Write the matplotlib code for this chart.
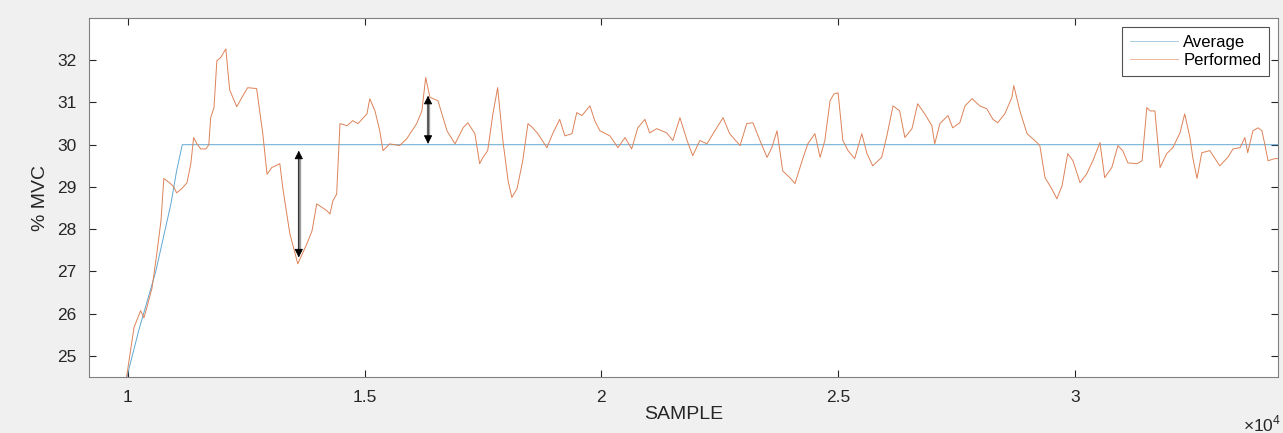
"""MATLAB-style force tracking trace: target average vs performed %MVC."""
import numpy as np
import matplotlib
matplotlib.use('Agg')
import matplotlib.pyplot as plt
from matplotlib.ticker import FuncFormatter

plt.rcParams.update({
    'font.family': ['Liberation Sans', 'DejaVu Sans'],
    'mathtext.fontset': 'custom', 'mathtext.rm': 'Liberation Sans',
    'xtick.direction': 'in', 'ytick.direction': 'in',
})
BG = '#f0f0f0'; INK = '#262626'; SPINE = '#808080'

# ---------- data (samples, %MVC) ----------
avg_x = [9980, 10230, 10590, 10910, 11030, 11150, 34290]
avg_y = [24.5, 25.6, 27.0, 28.6, 29.38, 30.0, 30.0]

perf_x = [9960, 10130, 10270, 10340, 10400, 10510, 10610, 10700, 10760, 10820,
          10910, 10970, 11030, 11140, 11250, 11330, 11390, 11460, 11540, 11650,
          11710, 11750, 11820, 11880, 11960, 12070, 12150, 12300, 12410, 12530,
          12720, 12850, 12940, 13040, 13210, 13270, 13420, 13590, 13780, 13890,
          13990, 14200, 14270, 14330, 14410, 14480, 14630, 14750, 14860, 15050,
          15110, 15220, 15320, 15390, 15530, 15740, 15890, 16100, 16210, 16290,
          16380, 16550, 16740, 16910, 17080, 17180, 17330, 17430, 17500, 17600,
          17710, 17810, 17920, 18030, 18110, 18220, 18340, 18450, 18550, 18660,
          18850, 18980, 19120, 19230, 19380, 19480, 19590, 19760, 19860, 19970,
          20180, 20350, 20500, 20640, 20770, 20920, 21020, 21170, 21380, 21510,
          21660, 21810, 21930, 22080, 22230, 22360, 22570, 22710, 22930, 23070,
          23200, 23350, 23500, 23600, 23710, 23830, 23980, 24090, 24240, 24360,
          24510, 24620, 24720, 24830, 24910, 25000, 25100, 25210, 25350, 25500,
          25610, 25730, 25920, 26030, 26160, 26300, 26410, 26560, 26680, 26830,
          26980, 27040, 27150, 27320, 27420, 27570, 27680, 27830, 27990, 28140,
          28270, 28370, 28520, 28670, 28710, 28840, 28990, 29200, 29260, 29370,
          29510, 29620, 29730, 29850, 29960, 30110, 30250, 30380, 30530, 30630,
          30780, 30910, 31010, 31120, 31310, 31420, 31520, 31590, 31690, 31800,
          31940, 32070, 32220, 32320, 32430, 32490, 32580, 32680, 32850, 33060,
          33230, 33340, 33490, 33590, 33650, 33760, 33870, 33950, 34010, 34080,
          34220, 34310]
perf_y = [24.4, 25.67, 26.07, 25.9, 26.14, 26.6, 27.4, 28.2, 29.2, 29.15,
          29.07, 29.0, 28.86, 28.96, 29.1, 29.55, 30.17, 30.02, 29.9, 29.9,
          30.0, 30.64, 30.88, 31.99, 32.06, 32.27, 31.3, 30.9, 31.12, 31.35,
          31.33, 30.26, 29.3, 29.46, 29.55, 29.0, 27.9, 27.18, 27.65, 27.96,
          28.6, 28.44, 28.36, 28.67, 28.83, 30.5, 30.45, 30.57, 30.5, 30.73,
          31.09, 30.8, 30.33, 29.86, 30.02, 29.98, 30.14, 30.5, 30.8, 31.59,
          31.12, 31.04, 30.33, 30.02, 30.4, 30.52, 30.26, 29.55, 29.7, 29.86,
          30.73, 31.35, 30.1, 29.15, 28.75, 28.96, 29.62, 30.5, 30.4, 30.26,
          29.93, 30.28, 30.6, 30.21, 30.26, 30.76, 30.69, 30.92, 30.57, 30.33,
          30.21, 29.93, 30.17, 29.9, 30.4, 30.6, 30.28, 30.38, 30.28, 30.1,
          30.64, 30.1, 29.74, 30.1, 30.02, 30.26, 30.64, 30.26, 29.98, 30.5,
          30.52, 30.1, 29.7, 29.93, 30.33, 29.38, 29.22, 29.08, 29.62, 30.02,
          30.26, 29.7, 30.1, 31.04, 31.2, 31.23, 30.1, 29.86, 29.67, 30.26,
          29.79, 29.5, 29.7, 30.21, 30.92, 30.8, 30.17, 30.38, 30.97, 30.73,
          30.45, 30.02, 30.5, 30.69, 30.4, 30.52, 30.92, 31.09, 30.92, 30.85,
          30.6, 30.52, 30.73, 31.12, 31.4, 30.8, 30.26, 30.05, 29.98, 29.22,
          28.96, 28.72, 29.03, 29.79, 29.62, 29.1, 29.31, 29.62, 30.05, 29.22,
          29.46, 29.98, 29.86, 29.57, 29.55, 29.62, 30.88, 30.8, 30.8, 29.46,
          29.79, 29.93, 30.28, 30.73, 30.17, 29.7, 29.2, 29.81, 29.86, 29.5,
          29.7, 29.9, 29.93, 30.17, 29.81, 30.33, 30.4, 30.33, 30.02, 29.62,
          29.67, 29.67]

# double-headed deviation markers: (sample, top, bottom)
arrows = [(13610, 29.86, 27.33), (16340, 31.16, 30.02)]

xticks = [10000, 15000, 20000, 25000, 30000]
yticks = [25, 26, 27, 28, 29, 30, 31, 32]

fig = plt.figure(figsize=(12.83, 4.33), dpi=100, facecolor=BG)
ax = fig.add_axes([89/1283, 56/433, 1189/1283, 359/433])
ax.plot(avg_x, avg_y, color='#5fa8d3', lw=0.7, label='Average')
ax.plot(perf_x, perf_y, color='#dd8258', lw=0.7, label='Performed')

for x, top, bot in arrows:
    ax.plot([x, x], [top - 0.12, bot + 0.12], color='0.62', lw=2.4, solid_capstyle='butt')
    ax.annotate('', xy=(x, top), xytext=(x, bot),
                arrowprops=dict(arrowstyle='<|-|>', color='black', lw=0.6,
                                mutation_scale=13, shrinkA=0, shrinkB=0))

ax.set_xlim(9180, 34290); ax.set_ylim(24.5, 33)
ax.set_xticks(xticks); ax.set_yticks(yticks)
ax.xaxis.set_major_formatter(FuncFormatter(lambda v, p: '%g' % (v / 1e4)))
ax.tick_params(top=True, right=True, length=5, width=0.8, color=INK,
               labelsize=12.5, labelcolor=INK, pad=9)
for s in ax.spines.values():
    s.set_color(SPINE); s.set_linewidth(0.8)
ax.set_xlabel('SAMPLE', fontsize=14, color=INK, labelpad=1)
ax.set_ylabel('% MVC', fontsize=14, color=INK, labelpad=6)
fig.text(1262/1283, 1 - 424/433, r'$\times10^{4}$', fontsize=12.5, color=INK,
         ha='center', va='center')

leg = ax.legend(loc='upper right', fontsize=12, frameon=True, fancybox=False,
                edgecolor=INK, handlelength=2.9, borderaxespad=0.55,
                borderpad=0.45, labelspacing=0.2, handletextpad=0.3)
leg.get_frame().set_linewidth(0.8)
for h, c in zip(leg.get_lines(), ['#a9cfe6', '#eeb89c']):
    h.set_color(c)

fig.savefig('out.png', dpi=100, facecolor=BG)
